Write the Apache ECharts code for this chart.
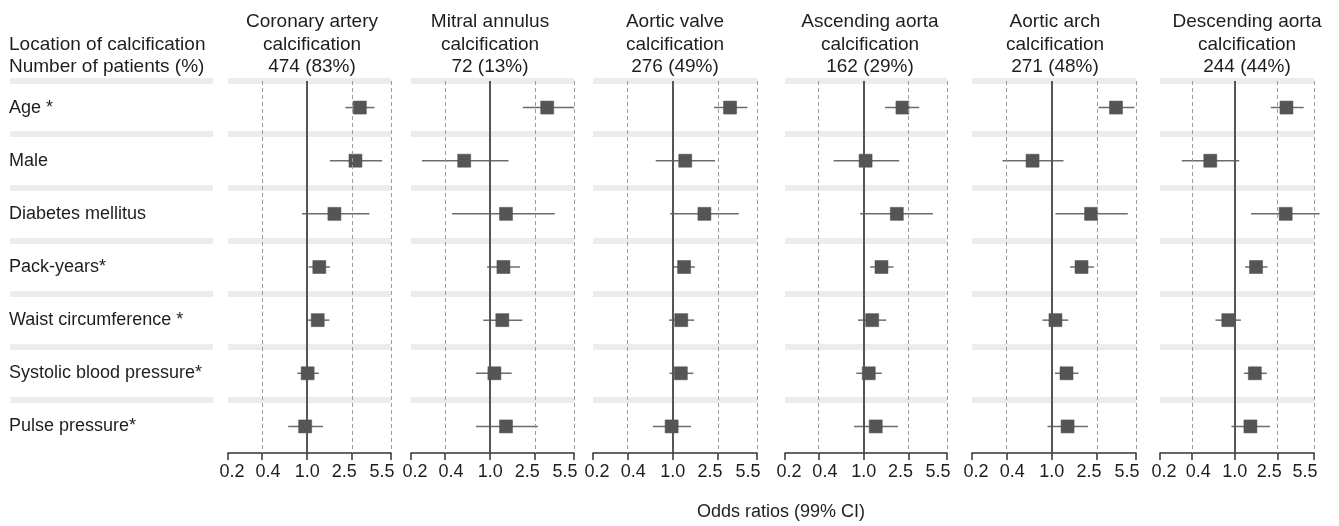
<!DOCTYPE html>
<html>
<head>
<meta charset="utf-8">
<script src="https://cdn.jsdelivr.net/npm/echarts@6/dist/echarts.min.js"></script>
<style>
html,body{margin:0;padding:0;background:#fff;}
#chart{width:1339px;height:526px;}
</style>
</head>
<body>
<div id="chart"></div>
<script>
// ---------- data ----------
const rowLabels = ['Age *', 'Male', 'Diabetes mellitus', 'Pack-years*', 'Waist circumference *', 'Systolic blood pressure*', 'Pulse pressure*'];
const locationNames = ['Coronary artery', 'Mitral annulus', 'Aortic valve', 'Ascending aorta', 'Aortic arch', 'Descending aorta'];
const locationSuffix = 'calcification';
const patientCounts = ['474 (83%)', '72 (13%)', '276 (49%)', '162 (29%)', '271 (48%)', '244 (44%)'];
const tickValues = [0.2, 0.4, 1.0, 2.5, 5.5];
const tickLabels = ['0.2', '0.4', '1.0', '2.5', '5.5'];
const leftHeader = ['Location of calcification', 'Number of patients (%)'];
const xAxisTitle = 'Odds ratios (99% CI)';

const coronaryOR   = [2.92, 2.67, 1.74, 1.28, 1.24, 1.01, 0.96];
const coronaryLow  = [2.18, 1.59, 0.90, 1.03, 1.00, 0.82, 0.68];
const coronaryHigh = [3.93, 4.59, 3.55, 1.59, 1.57, 1.27, 1.38];

const mitralOR   = [3.19, 0.59, 1.38, 1.31, 1.28, 1.09, 1.38];
const mitralLow  = [1.94, 0.25, 0.46, 0.94, 0.87, 0.75, 0.75];
const mitralHigh = [5.50, 1.45, 3.72, 1.83, 1.92, 1.55, 2.64];

const valveOR   = [3.19, 1.29, 1.90, 1.26, 1.19, 1.18, 0.98];
const valveLow  = [2.31, 0.71, 0.95, 1.00, 0.93, 0.94, 0.67];
const valveHigh = [4.53, 2.36, 3.80, 1.57, 1.55, 1.52, 1.45];

const ascendingOR   = [2.21, 1.04, 1.97, 1.44, 1.19, 1.11, 1.28];
const ascendingLow  = [1.55, 0.54, 0.93, 1.14, 0.89, 0.86, 0.82];
const ascendingHigh = [3.12, 2.07, 4.12, 1.84, 1.59, 1.45, 2.02];

const archOR   = [3.67, 0.68, 2.22, 1.83, 1.08, 1.35, 1.38];
const archLow  = [2.58, 0.37, 1.08, 1.45, 0.83, 1.07, 0.92];
const archHigh = [5.33, 1.27, 4.66, 2.35, 1.40, 1.72, 2.08];

const descendingOR   = [3.04, 0.59, 2.99, 1.58, 0.87, 1.54, 1.40];
const descendingLow  = [2.17, 0.32, 1.42, 1.25, 0.66, 1.22, 0.93];
const descendingHigh = [4.40, 1.10, 6.20, 2.02, 1.14, 1.99, 2.13];

const panelOR   = [coronaryOR, mitralOR, valveOR, ascendingOR, archOR, descendingOR];
const panelLow  = [coronaryLow, mitralLow, valveLow, ascendingLow, archLow, descendingLow];
const panelHigh = [coronaryHigh, mitralHigh, valveHigh, ascendingHigh, archHigh, descendingHigh];

// ---------- layout ----------
const FONT = '"Liberation Sans", Arial, Helvetica, sans-serif';
const TEXT = '#1e1e1e';
const panelLeft  = [228, 411, 593, 785, 972, 1160];
const panelWidth = [163, 163, 164, 162, 164, 154];
const headerX    = [312, 490, 675, 870, 1055, 1247];
const plotTop = 81, plotHeight = 372;
const labelShift = [4, 6, 0, -8, -9];
const nRows = rowLabels.length;

const L = Math.log;
const lnTicks = tickValues.map(L);
function tickIndex(v) {
  let best = 0;
  lnTicks.forEach((t, i) => { if (Math.abs(t - v) < Math.abs(lnTicks[best] - v)) best = i; });
  return best;
}
const rich = {};
labelShift.forEach((s, i) => {
  rich['t' + i] = {
    fontSize: 18, fontFamily: FONT, color: TEXT,
    padding: s >= 0 ? [0, 0, 0, 2 * s] : [0, -2 * s, 0, 0]
  };
});

const grids = [], xAxes = [], yAxes = [], series = [];
const stripeLines = [];
for (let k = 0; k < nRows; k++) stripeLines.push({ yAxis: k });

function stripeSeries(gi) {
  return {
    type: 'line', xAxisIndex: gi, yAxisIndex: gi, data: [], silent: true, z: 1,
    markLine: {
      silent: true, symbol: 'none', animation: false,
      label: { show: false },
      lineStyle: { color: '#ececec', width: 6, type: 'solid' },
      emphasis: { disabled: true },
      data: stripeLines
    }
  };
}

for (let p = 0; p < 6; p++) {
  grids.push({ left: panelLeft[p], width: panelWidth[p], top: plotTop, height: plotHeight, containLabel: false });
  xAxes.push({
    gridIndex: p, type: 'value', min: L(0.2), max: L(5.5),
    axisLine: { show: true, onZero: false, lineStyle: { color: '#333', width: 1.5 } },
    axisTick: { show: true, customValues: lnTicks, length: 7, lineStyle: { color: '#333', width: 1.5 } },
    axisLabel: {
      show: true, customValues: lnTicks, margin: 10,
      formatter: v => { const i = tickIndex(v); return '{t' + i + '|' + tickLabels[i] + '}'; },
      rich: rich, fontSize: 18, fontFamily: FONT, color: TEXT
    },
    splitLine: { show: false }
  });
  yAxes.push({ gridIndex: p, type: 'value', min: 0, max: nRows, inverse: true, show: false });

  series.push(stripeSeries(p));
  series.push({
    type: 'line', xAxisIndex: p, yAxisIndex: p, data: [], silent: true, z: 2,
    markLine: {
      silent: true, symbol: 'none', animation: false, label: { show: false },
      emphasis: { disabled: true },
      lineStyle: { color: '#9c9c9c', width: 1, type: [4, 3] },
      data: [{ xAxis: L(0.2) }, { xAxis: L(0.4) }, { xAxis: L(2.5) }, { xAxis: L(5.5) }]
    }
  });
  series.push({
    type: 'line', xAxisIndex: p, yAxisIndex: p, data: [], silent: true, z: 3,
    markLine: {
      silent: true, symbol: 'none', animation: false, label: { show: false },
      emphasis: { disabled: true },
      lineStyle: { color: '#555', width: 2, type: 'solid' },
      data: [{ xAxis: L(1.0) }]
    }
  });
  const items = panelOR[p].map((v, r) => [r + 0.5, L(panelLow[p][r]), L(v), L(panelHigh[p][r])]);
  series.push({
    type: 'custom', xAxisIndex: p, yAxisIndex: p, z: 4, clip: false,
    encode: { x: [1, 2, 3], y: 0 },
    data: items,
    renderItem: (params, api) => {
      const y = api.value(0);
      const a = api.coord([api.value(1), y]);
      const b = api.coord([api.value(3), y]);
      const c = api.coord([api.value(2), y]);
      const maxX = params.coordSys.x + params.coordSys.width + 6;
      return {
        type: 'group',
        children: [
          { type: 'line', shape: { x1: a[0], y1: a[1], x2: Math.min(b[0], maxX), y2: b[1] },
            style: { stroke: '#6c6c6c', lineWidth: 1.5 } },
          { type: 'rect', shape: { x: c[0] - 6.5, y: c[1] - 6.5, width: 13, height: 13 },
            style: { fill: '#555555', stroke: '#4a4a4a', lineWidth: 0.5 } }
        ]
      };
    }
  });
}

// label grid (left column)
const lg = 6;
grids.push({ left: 10, width: 203, top: plotTop, height: plotHeight });
xAxes.push({ gridIndex: lg, type: 'value', min: 0, max: 1, show: false });
yAxes.push({
  gridIndex: lg, type: 'value', min: 0, max: nRows, inverse: true,
  axisLine: { show: false }, axisTick: { show: false }, splitLine: { show: false },
  axisLabel: {
    show: true, inside: true, margin: -1,
    customValues: rowLabels.map((_, i) => i + 0.5),
    formatter: v => rowLabels[Math.floor(v)],
    padding: [3, 0, 0, 0],
    fontSize: 18, fontFamily: FONT, color: TEXT
  }
});
series.push(stripeSeries(lg));

// header texts
const graphics = [];
function addText(x, y, text, size) {
  graphics.push({
    type: 'text', x: x, y: y, silent: true,
    style: { text: text, fill: TEXT, font: size + 'px ' + FONT, textAlign: 'center', textVerticalAlign: 'middle' }
  });
}
for (let p = 0; p < 6; p++) {
  addText(headerX[p], 22, locationNames[p], 19);
  addText(headerX[p], 44.5, locationSuffix, 19);
  addText(headerX[p], 66.5, patientCounts[p], 19);
}
graphics.push({
  type: 'text', x: 9, y: 44.5, silent: true,
  style: { text: leftHeader[0], fill: TEXT, font: '19px ' + FONT, textAlign: 'left', textVerticalAlign: 'middle' }
});
graphics.push({
  type: 'text', x: 9, y: 66.5, silent: true,
  style: { text: leftHeader[1], fill: TEXT, font: '19px ' + FONT, textAlign: 'left', textVerticalAlign: 'middle' }
});
addText(781, 512, xAxisTitle, 18);

const chart = echarts.init(document.getElementById('chart'), null, { renderer: 'canvas' });
chart.setOption({
  backgroundColor: '#ffffff',
  animation: false,
  grid: grids,
  xAxis: xAxes,
  yAxis: yAxes,
  series: series,
  graphic: graphics
});
</script>
</body>
</html>
